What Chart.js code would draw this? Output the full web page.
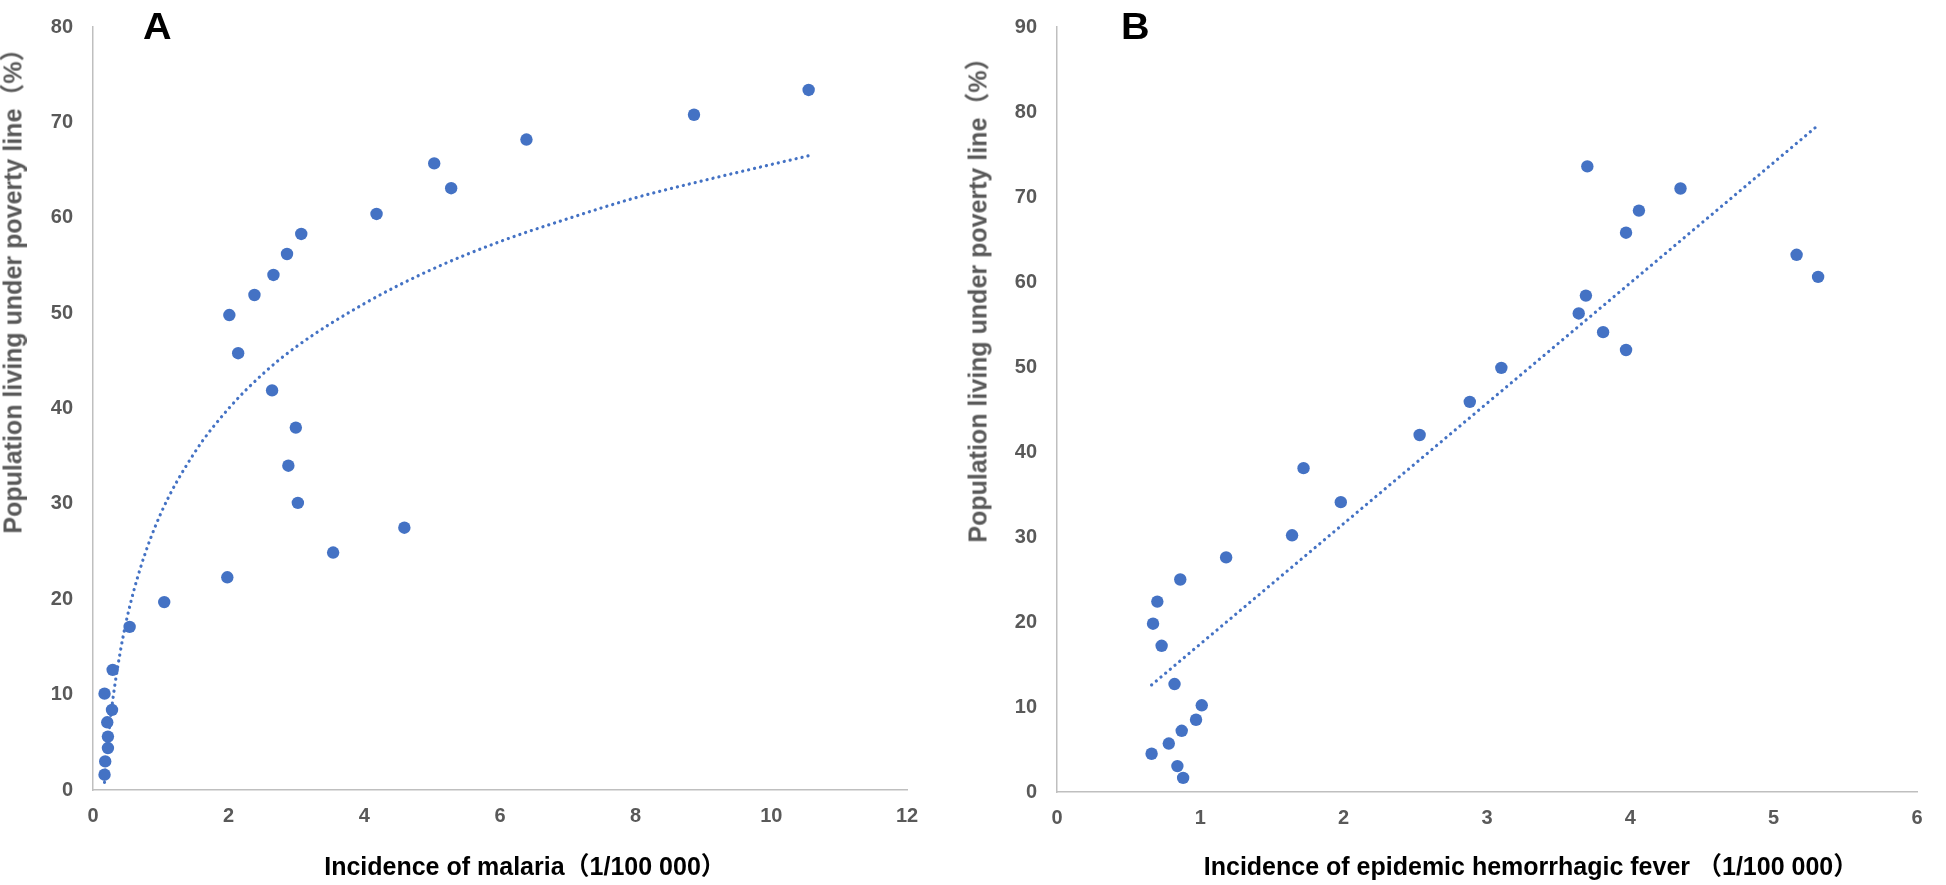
<!DOCTYPE html>
<html><head><meta charset="utf-8">
<script src="https://cdn.jsdelivr.net/npm/chart.js@4/dist/chart.umd.min.js"></script>
<style>
html,body{margin:0;padding:0;background:#fff;}
body{width:1946px;height:885px;position:relative;overflow:hidden;}
canvas{position:absolute;top:0;}
#ca{left:0;}
#cb{left:960px;}
.lab{position:absolute;font:bold 36px 'Liberation Sans',Arial,sans-serif;line-height:36px;color:#000;transform:scaleX(1.1);transform-origin:left top;}
.ttl{position:absolute;font-family:'Liberation Sans',Arial,'Noto Sans CJK SC',sans-serif;font-weight:bold;font-size:25px;line-height:25px;white-space:nowrap;}
.xt{color:#000;transform:translate(-50%,0);}
.yt{color:#595959;transform:translate(-50%,-50%) rotate(-90deg);}
</style></head><body>
<canvas id="ca" width="960" height="885"></canvas>
<canvas id="cb" width="986" height="885"></canvas>
<div class="lab" style="left:143px;top:9px">A</div>
<div class="lab" style="left:1121px;top:9px">B</div>
<div class="ttl xt" id="xa" style="left:525px;top:854px"></div>
<div class="ttl xt" id="xb" style="left:1531px;top:854px"></div>
<div class="ttl yt" id="ya" style="left:13px;top:285px"></div>
<div class="ttl yt" id="yb" style="left:978px;top:294px"></div>
<script>
const FONT = "'Liberation Sans', Arial, 'Noto Sans CJK SC', sans-serif";

// Panel A: malaria incidence vs poverty
const malariaX = [0.17,0.18,0.22,0.22,0.21,0.28,0.17,0.29,0.54,1.05,1.98,3.54,4.59,3.02,2.88,2.99,2.64,2.14,2.01,2.38,2.66,2.86,3.07,4.18,5.28,5.03,6.39,8.86,10.55];
const malariaY = [1.6,3.0,4.4,5.6,7.1,8.4,10.1,12.6,17.1,19.7,22.3,24.9,27.5,30.1,34.0,38.0,41.9,45.8,49.8,51.9,54.0,56.2,58.3,60.4,63.1,65.7,68.2,70.8,73.4];
// logarithmic trendline
const trendAX = [0.17,0.2,0.25,0.3,0.4,0.5,0.7,1.0,1.5,2.0,2.5,3.0,4.0,5.0,6.0,7.0,8.0,9.0,10.55];
const trendAY = [0.8,3.4,7.0,9.9,14.4,18.0,23.3,29.0,35.4,40.0,43.6,46.5,51.0,54.6,57.5,59.9,62.1,63.9,66.5];

// Panel B: epidemic hemorrhagic fever incidence vs poverty
const hfX = [0.88,0.84,0.66,0.78,0.87,0.97,1.01,0.82,0.73,0.67,0.70,0.86,1.18,1.64,1.98,1.72,2.53,2.88,3.10,3.97,3.81,3.64,3.69,5.31,5.16,3.97,4.06,4.35,3.70];
const hfY = [1.66,3.05,4.5,5.7,7.2,8.5,10.2,12.7,17.2,19.8,22.4,25.0,27.6,30.2,34.1,38.1,42.0,45.9,49.9,52.0,54.1,56.3,58.4,60.6,63.2,65.8,68.4,71.0,73.6];
// linear trendline end points
const trendBX = [0.66,5.30];
const trendBY = [12.6,78.3];

const titleA_x = 'Incidence of malaria（1/100 000）';
const titleB_x = 'Incidence of epidemic hemorrhagic fever （1/100 000）';
const titleY = 'Population living under poverty line（%）';

document.getElementById('xa').textContent = titleA_x;
document.getElementById('xb').textContent = titleB_x;
document.getElementById('ya').textContent = titleY;
document.getElementById('yb').textContent = titleY;

const BLUE = '#4472C4';
const pts = (xs, ys) => xs.map((x, i) => ({x, y: ys[i]}));

function makeChart(id, o) {
  return new Chart(document.getElementById(id), {
    type: 'scatter',
    data: {
      datasets: [
        {type:'scatter', data: pts(o.xs, o.ys), pointRadius:6.2, pointHoverRadius:6.2,
         backgroundColor: BLUE, borderColor: BLUE, borderWidth:0},
        {type:'line', data: pts(o.tx, o.ty), borderColor: BLUE, borderWidth:3.2,
         borderDash:[0.1,6], borderCapStyle:'round', pointRadius:0, fill:false,
         cubicInterpolationMode:'monotone'}
      ]
    },
    options: {
      responsive:false, animation:false, devicePixelRatio:1,
      layout: {padding: {left:0, right:o.padRight, top:o.padTop, bottom:0}},
      plugins: {legend:{display:false}, tooltip:{enabled:false}},
      scales: {
        x: {
          type:'linear', min:0, max:o.xMax,
          ticks:{stepSize:o.xStep, color:'#595959', padding:16,
                 font:{family:FONT, size:20, weight:'bold', lineHeight:1}},
          grid:{display:false, drawTicks:false},
          border:{display:true, color:'#BFBFBF', width:1.5},
          title:{display:false},
          afterFit: s => { s.height = o.xH; }
        },
        y: {
          type:'linear', min:0, max:o.yMax,
          ticks:{stepSize:10, color:'#595959', padding:20,
                 font:{family:FONT, size:20, weight:'bold', lineHeight:0.7}},
          grid:{display:false, drawTicks:false},
          border:{display:true, color:'#BFBFBF', width:1.5},
          title:{display:false},
          afterFit: s => { s.width = o.yW; }
        }
      }
    }
  });
}

makeChart('ca', {xs:malariaX, ys:malariaY, tx:trendAX, ty:trendAY, xMax:12, xStep:2, yMax:80,
  padRight:53, padTop:8, xH:95, yW:93});
makeChart('cb', {xs:hfX, ys:hfY, tx:trendBX, ty:trendBY, xMax:6, xStep:1, yMax:90,
  padRight:29, padTop:15, xH:93, yW:97});
</script>
</body></html>
